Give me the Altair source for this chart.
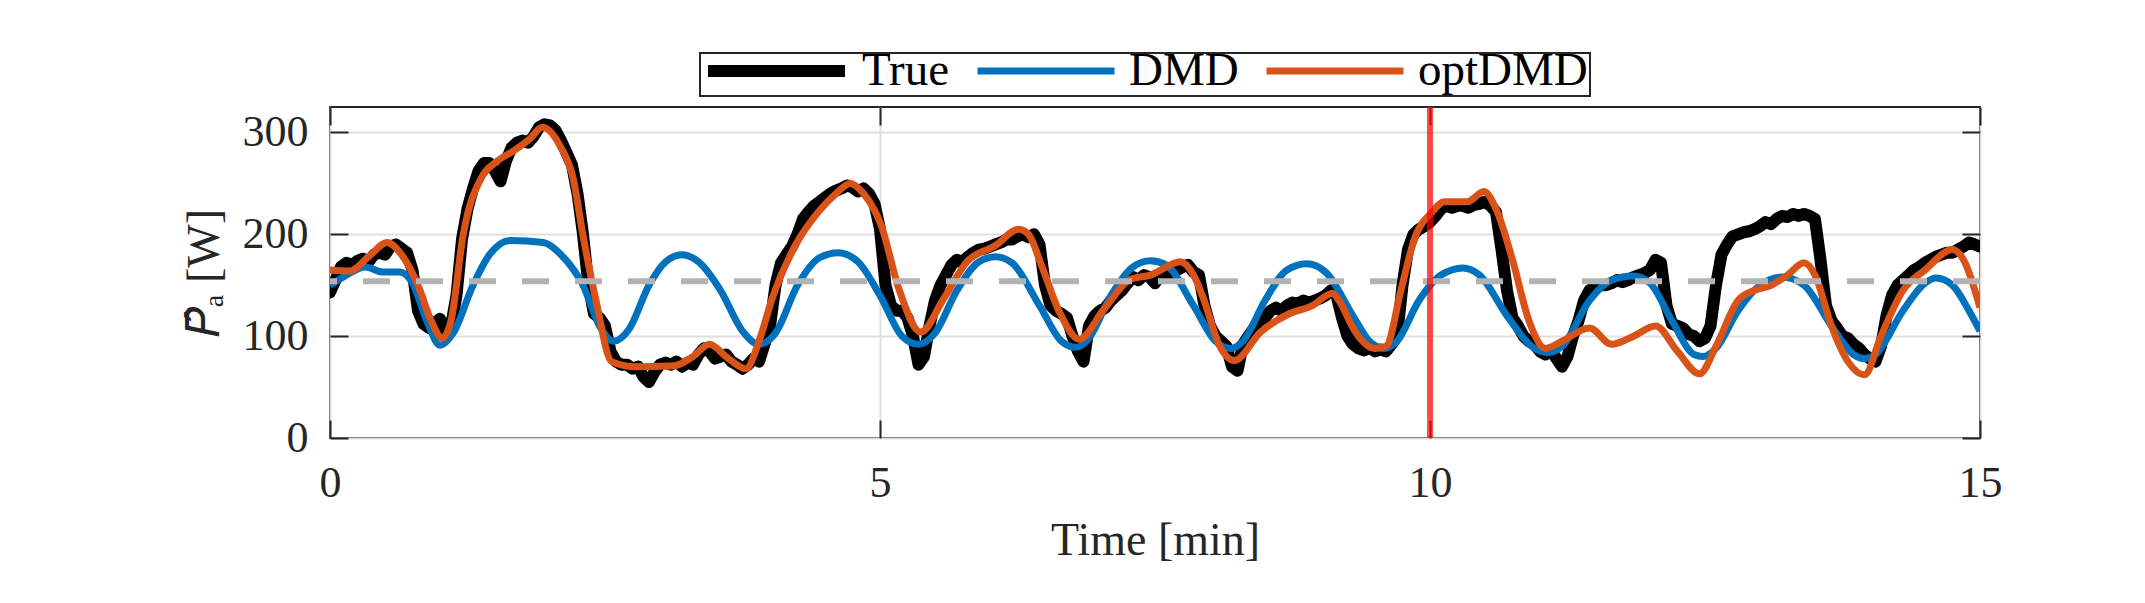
import altair as alt
import pandas as pd

FONT = "Liberation Serif"
INK = "#262626"

# ---------------- data ----------------
series_names = ["True", "DMD", "optDMD"]
series_colors = ["#000000", "#0072BD", "#D95319"]
series_widths = [12, 7, 7]

x_ticks = [0, 5, 10, 15]
y_ticks = [0, 100, 200, 300]
x_domain = [0, 15]
y_domain = [0, 325]
split_time = [10]
mean_power = [154]

# measured signal, sampled every 0.05 min from t = 0 to 15
true_step = 0.05
true_v = [
    143, 155, 168, 172, 170, 174, 176, 173, 180, 182, 180, 188, 190, 186, 182, 165, 125, 112, 108, 113,
    117, 106, 110, 140, 195, 225, 245, 262, 270, 270, 262, 252, 272, 285, 290, 292, 290, 296, 305, 308,
    307, 302, 292, 280, 268, 240, 200, 150, 122, 118, 110, 85, 75, 72, 72, 68, 70, 60, 55, 65,
    72, 74, 72, 75, 70, 74, 72, 82, 88, 85, 78, 80, 82, 75, 72, 68, 72, 78, 75, 92,
    110, 150, 172, 180, 188, 200, 215, 222, 228, 232, 236, 240, 243, 245, 248, 246, 242, 245, 240, 230,
    205, 150, 130, 125, 125, 118, 100, 72, 80, 110, 135, 150, 160, 170, 175, 173, 178, 182, 185, 186,
    188, 190, 192, 195, 195, 198, 200, 197, 200, 190, 150, 130, 125, 122, 118, 100, 85, 75, 110, 120,
    125, 128, 135, 140, 145, 152, 158, 155, 160, 158, 152, 160, 162, 160, 165, 168, 170, 163, 160, 130,
    110, 100, 95, 90, 70, 66, 92, 100, 108, 115, 118, 125, 128, 125, 130, 133, 132, 135, 133, 135,
    137, 140, 145, 140, 118, 100, 92, 88, 86, 90, 85, 87, 85, 92, 100, 150, 185, 200, 205, 208,
    212, 218, 225, 228, 226, 228, 228, 226, 229, 230, 232, 228, 222, 185, 145, 118, 110, 100, 95, 92,
    85, 82, 86, 78, 70, 80, 100, 115, 135, 145, 148, 150, 150, 152, 155, 153, 155, 158, 160, 162,
    165, 175, 172, 130, 112, 110, 108, 102, 100, 95, 98, 110, 150, 180, 190, 198, 200, 202, 203, 205,
    208, 212, 210, 215, 218, 217, 220, 218, 220, 218, 215, 175, 130, 115, 108, 100, 98, 92, 88, 82,
    78, 75, 90, 120, 140, 150, 155, 160, 165, 168, 172, 175, 178, 180, 182, 182, 185, 188, 192, 190,
    188,
]
true_t = [round(i * true_step, 2) for i in range(len(true_v))]

dmd_t = [
    0.0, 0.15, 0.32, 0.48, 0.63, 0.75, 0.88, 1.0, 1.12, 1.3, 1.45, 1.64, 1.94, 2.1, 2.3, 2.45,
    2.58, 2.72, 2.9, 3.05, 3.2, 3.35, 3.55, 3.75, 3.9, 4.05, 4.25, 4.45, 4.62, 4.8, 5.0, 5.2,
    5.35, 5.5, 5.7, 5.9, 6.05, 6.2, 6.45, 6.65, 6.78, 6.9, 7.1, 7.3, 7.46, 7.6, 7.85, 8.05,
    8.19, 8.3, 8.5, 8.7, 8.88, 9.05, 9.3, 9.45, 9.58, 9.7, 9.9, 10.1, 10.3, 10.45, 10.7, 10.95,
    11.08, 11.2, 11.45, 11.65, 11.85, 12.0, 12.2, 12.4, 12.48, 12.6, 12.8, 13.0, 13.2, 13.4,
    13.65, 13.85, 13.95, 14.05, 14.3, 14.5, 14.6, 14.75, 14.9, 15.0,
]
dmd_v = [
    150, 160, 168, 163, 163, 152, 115, 91, 103, 150, 180, 194, 192, 180, 150, 110,
    95, 107, 150, 173, 180, 173, 145, 105, 92, 103, 150, 177, 182, 173, 140, 100,
    92, 103, 145, 173, 178, 172, 130, 95, 89, 98, 140, 168, 174, 170, 130, 95,
    88, 95, 135, 165, 171, 163, 120, 95, 88, 95, 135, 160, 167, 160, 120, 88,
    84, 90, 135, 155, 159, 152, 115, 82, 80, 88, 125, 150, 158, 150,
    110, 82, 78, 82, 125, 152, 157, 150, 125, 105,
]

opt_t = [
    0.0, 0.18, 0.36, 0.52, 0.65, 0.8, 0.92, 1.02, 1.1, 1.21, 1.39, 1.51, 1.67, 1.82, 1.93, 2.09,
    2.21, 2.3, 2.42, 2.56, 2.77, 3.13, 3.3, 3.45, 3.6, 3.78, 3.9, 4.02, 4.23, 4.44, 4.6, 4.73,
    4.85, 5.01, 5.17, 5.37, 5.58, 5.79, 6.05, 6.26, 6.35, 6.47, 6.63, 6.81, 7.04, 7.28, 7.46, 7.73,
    7.85, 7.94, 8.09, 8.22, 8.46, 8.72, 8.93, 9.11, 9.2, 9.29, 9.5, 9.6, 9.74, 9.86, 10.02, 10.13,
    10.34, 10.49, 10.6, 10.75, 10.9, 11.05, 11.2, 11.45, 11.65, 11.85, 12.05, 12.25, 12.45, 12.6,
    12.8, 12.95, 13.1, 13.25, 13.4, 13.5, 13.65, 13.8, 13.95, 14.1, 14.3, 14.5, 14.75, 14.85, 15.0,
]
opt_v = [
    165, 164, 179, 192, 180, 150, 115, 98, 115, 199, 258, 271, 282, 294, 305, 287,
    255, 199, 134, 75, 70, 71, 80, 92, 80, 68, 95, 137, 189, 222, 240, 250,
    240, 209, 147, 104, 137, 173, 189, 205, 200, 169, 124, 97, 127, 156, 160, 173,
    160, 137, 90, 76, 104, 122, 130, 142, 130, 110, 88, 90, 147, 196, 222, 232,
    232, 242, 225, 175, 115, 88, 95, 108, 92, 100, 110, 85, 63, 90,
    135, 145, 150, 160, 172, 160, 110, 75, 62, 100, 145, 165, 185, 175, 128,
]

true_df = pd.DataFrame({"t": true_t, "v": true_v, "series": "True"})
dmd_df = pd.DataFrame({"t": dmd_t, "v": dmd_v, "series": "DMD"})
opt_df = pd.DataFrame({"t": opt_t, "v": opt_v, "series": "optDMD"})
mean_df = pd.DataFrame({"v": mean_power})
split_df = pd.DataFrame({"t": split_time})

# ---------------- encodings ----------------
W, H = 1650, 331
TICK = 18

xs = alt.Scale(domain=x_domain, nice=False, zero=False)
ys = alt.Scale(domain=y_domain, nice=False)

leg = alt.Legend(
    title=None, orient="none", legendX=370, legendY=-54, direction="horizontal",
    symbolType="stroke", symbolSize=18769, clipHeight=32,
    labelFont=FONT, labelFontSize=47,
    labelColor="#000000", labelLimit=500, labelOffset=11, columnPadding=24,
    padding=2, strokeColor=INK, fillColor="#ffffff",
)
color = alt.Color("series:N", scale=alt.Scale(domain=series_names, range=series_colors), legend=leg)
swidth = alt.StrokeWidth(
    "series:N", scale=alt.Scale(type="ordinal", domain=series_names, range=series_widths), legend=leg
)

ax_bottom = alt.Axis(orient="bottom", values=x_ticks, offset=-TICK, tickSize=TICK, grid=True,
                     labelPadding=23, title="Time [min]", titlePadding=13, format="d",
                     labelFlush=False)
ax_left = alt.Axis(orient="left", values=y_ticks, offset=-TICK, tickSize=TICK, grid=True,
                   labelPadding=22, title="𝑃̂ₐ [W]", titlePadding=14, format="d",
                   labelFlush=False)
ax_top = alt.Axis(orient="top", values=x_ticks, offset=-TICK, tickSize=TICK, grid=False,
                  labels=False, title=None)
ax_right = alt.Axis(orient="right", values=y_ticks, offset=-TICK, tickSize=TICK, grid=False,
                    labels=False, title=None)

true_layer = alt.Chart(true_df).mark_line(strokeCap="round", strokeJoin="round", clip=True).encode(
    x=alt.X("t:Q", scale=xs, axis=ax_bottom),
    y=alt.Y("v:Q", scale=ys, axis=ax_left),
    color=color, strokeWidth=swidth,
)
dmd_layer = alt.Chart(dmd_df).mark_line(interpolate="monotone", clip=True).encode(
    x=alt.X("t:Q", scale=xs, axis=ax_top),
    y=alt.Y("v:Q", scale=ys, axis=ax_right),
    color=color, strokeWidth=swidth,
)
opt_layer = alt.Chart(opt_df).mark_line(interpolate="monotone", clip=True).encode(
    x=alt.X("t:Q", scale=xs, axis=None),
    y=alt.Y("v:Q", scale=ys, axis=None),
    color=color, strokeWidth=swidth,
)
mean_layer = alt.Chart(mean_df).mark_rule(color="#b3b3b3", strokeWidth=6, strokeDash=[27, 26]).encode(
    y=alt.Y("v:Q", scale=ys, axis=None)
)
split_layer = alt.Chart(split_df).mark_rule(color="#ff0000", opacity=0.7, strokeWidth=6).encode(
    x=alt.X("t:Q", scale=xs, axis=None)
)

chart = (
    alt.layer(true_layer, dmd_layer, opt_layer, mean_layer, split_layer)
    .resolve_axis(x="independent", y="independent")
    .properties(
        width=W, height=H,
        autosize=alt.AutoSizeParams(type="none"),
        padding={"left": 322, "top": 99, "right": 150, "bottom": 140},
    )
    .configure_view(stroke=INK, strokeWidth=2)
    .configure_axis(
        labelFont=FONT, titleFont=FONT, labelFontSize=44, titleFontSize=46,
        labelColor=INK, titleColor=INK, tickColor=INK, tickWidth=2,
        gridColor="#dfdfdf", gridWidth=2, domain=False, titleFontWeight="normal",
    )
    .configure_legend(strokeWidth=2)
)

chart.save("out.html", embed_options={"renderer": "svg", "actions": False})
